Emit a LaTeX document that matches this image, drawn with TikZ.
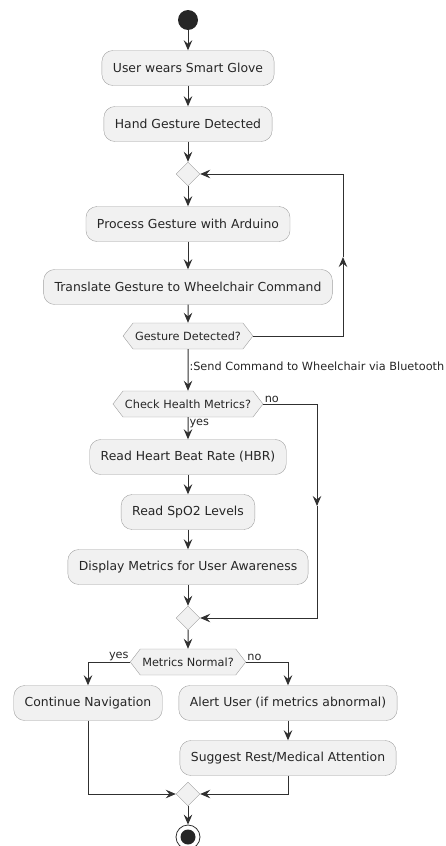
\documentclass[tikz,border=0pt]{standalone}
\usepackage{fontspec}
\setmainfont{DejaVu Sans}
\usetikzlibrary{shapes.geometric,shapes.symbols,arrows.meta}
\definecolor{actfill}{HTML}{F1F1F1}
\definecolor{actline}{HTML}{A0A0A0}
\definecolor{flowline}{HTML}{303030}
\definecolor{inktext}{HTML}{262626}

\begin{document}
\begin{tikzpicture}[x=1pt, y=-1pt,
    activity/.style={draw=actline, fill=actfill, rounded corners=11pt, minimum height=35pt,
        inner xsep=11pt, text=inktext, font=\fontsize{12.4}{14}\selectfont},
    choice/.style={signal, signal to=east and west, signal pointer angle=105, draw=actline,
        fill=actfill, minimum height=26pt, inner xsep=2pt, text=inktext,
        font=\fontsize{11.3}{13}\selectfont},
    merge/.style={diamond, draw=actline, fill=actfill, minimum size=24pt, inner sep=0pt},
    wire/.style={draw=flowline, line width=1pt},
    flow/.style={wire, -{Stealth[length=10pt,width=8.5pt,inset=3.5pt]}},
    tag/.style={text=inktext, font=\fontsize{11.3}{13}\selectfont, inner sep=1pt}]
    \useasboundingbox (0,0) rectangle (445,846);

    % gesture part
    \node[circle, fill=inktext, minimum size=20pt, inner sep=0pt] (start) at (188,20) {};
    \node[activity] (glove) at (188,68) {User wears Smart Glove};
    \node[activity] (hand) at (188,124) {Hand Gesture Detected};
    \node[merge] (loopin) at (188,174) {};
    \node[activity] (arduino) at (188,224) {Process Gesture with Arduino};
    \node[activity] (translate) at (188,287) {Translate Gesture to Wheelchair Command};
    \node[choice] (detected) at (188,336) {Gesture Detected?};
    \coordinate (loopup) at (343,257);

    % health part
    \node[choice] (health) at (188,404) {Check Health Metrics?};
    \node[activity] (hbr) at (188,457) {Read Heart Beat Rate (HBR)};
    \node[activity] (spo) at (188,512) {Read SpO2 Levels};
    \node[activity] (display) at (188,567) {Display Metrics for User Awareness};
    \node[merge] (healthout) at (188,618) {};
    \coordinate (skipdown) at (317,506);

    % result part
    \node[choice] (normal) at (188,662) {Metrics Normal?};
    \node[activity] (navigate) at (88,703) {Continue Navigation};
    \node[activity] (alert) at (288,703) {Alert User (if metrics abnormal)};
    \node[activity] (rest) at (288,758) {Suggest Rest/Medical Attention};
    \node[merge] (joined) at (188,794) {};
    \node[circle, draw=flowline, fill=white, line width=0.8pt, minimum size=24pt, inner sep=0pt] (stop) at (188,837) {};
    \node[circle, fill=inktext, minimum size=15pt, inner sep=0pt] (stopdot) at (stop) {};

    \draw[flow] (start) -- (glove);
    \draw[flow] (glove) -- (hand);
    \draw[flow] (hand) -- (loopin);
    \draw[flow] (loopin) -- (arduino);
    \draw[flow] (arduino) -- (translate);
    \draw[flow] (translate) -- (detected);
    \draw[flow] (detected.east) -| (loopup);
    \draw[flow] (loopup) |- (loopin.east);
    \draw[flow] (detected) -- node[tag, right, pos=0.4] {:Send Command to Wheelchair via Bluetooth} (health);

    \draw[flow] (health) -- node[tag, right, pos=0.3] {yes} (hbr);
    \draw[flow] (hbr) -- (spo);
    \draw[flow] (spo) -- (display);
    \draw[flow] (display) -- (healthout);
    \draw[flow] (health.east) node[tag, above right] {no} -| (skipdown);
    \draw[flow] (skipdown) |- (healthout.east);

    \draw[flow] (healthout) -- (normal);
    \draw[flow] (normal.west) node[tag, above left] {yes} -| (navigate);
    \draw[flow] (normal.east) node[tag, above right] {no} -| (alert);
    \draw[flow] (alert) -- (rest);
    \draw[flow] (navigate) |- (joined.west);
    \draw[flow] (rest) |- (joined.east);
    \draw[flow] (joined) -- (stop);
\end{tikzpicture}
\end{document}
